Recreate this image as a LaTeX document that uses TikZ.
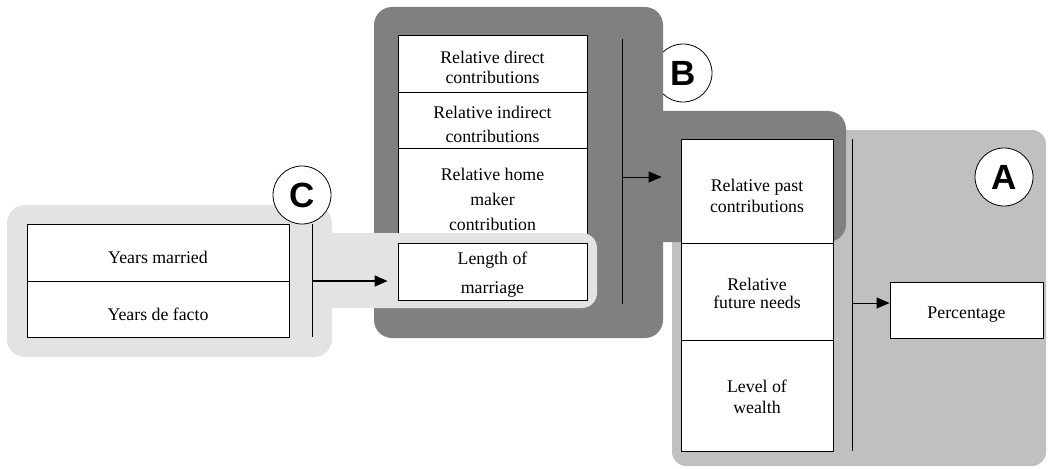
\documentclass[tikz,border=0pt]{standalone}
\usepackage{fontspec}
\setmainfont{Liberation Serif}
\newfontfamily\lblfont{Liberation Sans}
\usetikzlibrary{arrows.meta}
\definecolor{grayA}{HTML}{C0C0C0}
\definecolor{grayB}{HTML}{808080}
\definecolor{grayC}{HTML}{E3E3E3}
\tikzset{
  box/.style={draw, fill=white, line width=0.8pt, inner sep=0pt},
  txt/.style={font=\fontsize{17.8}{20}\selectfont, align=center, inner sep=0pt},
  bar/.style={line width=0.9pt},
  arr/.style={-{Triangle[length=13pt,width=11pt]}, line width=1pt},
  tag/.style={circle, draw, fill=white, line width=0.8pt, minimum size=58pt, inner sep=0pt,
              font=\lblfont\bfseries\fontsize{35}{35}\selectfont},
}
\begin{document}
\begin{tikzpicture}[x=1pt,y=-1pt]
\useasboundingbox (0,0) rectangle (1048,468);
% group A
\fill[grayA, rounded corners=14pt] (672,130) rectangle (1046,466);
% circle B (partly hidden by group B)
\node[tag] (tb) at (683,73) {B};
% group B
\fill[grayB, rounded corners=18pt] (374,7) rectangle (663,338);
\fill[grayB, rounded corners=18pt] (620,111) rectangle (846,242);
\node[box, minimum width=189pt, minimum height=57pt,
  label={[txt,yshift=-4pt]center:{Relative direct\\contributions}}] (rdc) at (492.5,63.5) {};
\node[box, minimum width=189pt, minimum height=56pt,
  label={[txt,yshift=-4.5pt]center:{Relative indirect\\[4pt]contributions}}] (rid) at (492.5,120) {};
\node[box, minimum width=189pt, minimum height=95pt,
  label={[txt,yshift=-3.5pt]center:{Relative home\\[5pt]maker\\[5pt]contribution}}] (rhm) at (492.5,195.5) {};
\coordinate (bt) at (622,39);
\coordinate (bb) at (622,304);
\draw[bar] (bt) -- (bb);
% group C
\fill[grayC, rounded corners=18pt] (7,205) rectangle (332,357);
\fill[grayC, rounded corners=15pt] (300,233) rectangle (597,308);
\node[box, minimum width=189pt, minimum height=57pt,
  label={[txt,yshift=-3.5pt]center:{Length of\\[9pt]marriage}}] (lom) at (492.5,271.5) {};
\node[box, minimum width=262pt, minimum height=57pt,
  label={[txt,yshift=-5pt]center:{Years married}}] (ym) at (158,252.5) {};
\node[box, minimum width=262pt, minimum height=56pt,
  label={[txt,yshift=-5.5pt]center:{Years de facto}}] (ydf) at (158,309) {};
\node[tag] (tc) at (302,195) {C};
\coordinate (ct) at (312,224);
\coordinate (cb) at (312,337);
\draw[bar] (ct) -- (cb);
% group A boxes
\node[box, minimum width=152pt, minimum height=104pt,
  label={[txt,yshift=-4.5pt]center:{Relative past\\[1pt]contributions}}] (rpc) at (757,191) {};
\node[box, minimum width=152pt, minimum height=97pt,
  label={[txt,yshift=-2pt]center:{Relative\\[-2pt]future needs}}] (rfn) at (757,291.5) {};
\node[box, minimum width=152pt, minimum height=111pt,
  label={[txt,yshift=-1.5pt]center:{Level of\\[1pt]wealth}}] (low) at (757,395.5) {};
\coordinate (at) at (852,139);
\coordinate (ab) at (852,451);
\draw[bar] (at) -- (ab);
\node[box, minimum width=153pt, minimum height=56pt,
  label={[txt,yshift=-5pt]center:{Percentage}}] (perc) at (966.5,310) {};
\node[tag] (ta) at (1004,177) {A};
% arrows
\coordinate (ca) at (312,281);
\draw[arr, line width=1.3pt, shorten >=10pt] (ca) -- (ca -| lom.west);
\coordinate (ba) at (622,177);
\draw[arr, line width=0.8pt, shorten >=19pt] (ba) -- (ba -| rpc.west);
\coordinate (aa) at (852,303);
\draw[arr, line width=0.8pt] (aa) -- (aa -| perc.west);
\end{tikzpicture}
\end{document}
